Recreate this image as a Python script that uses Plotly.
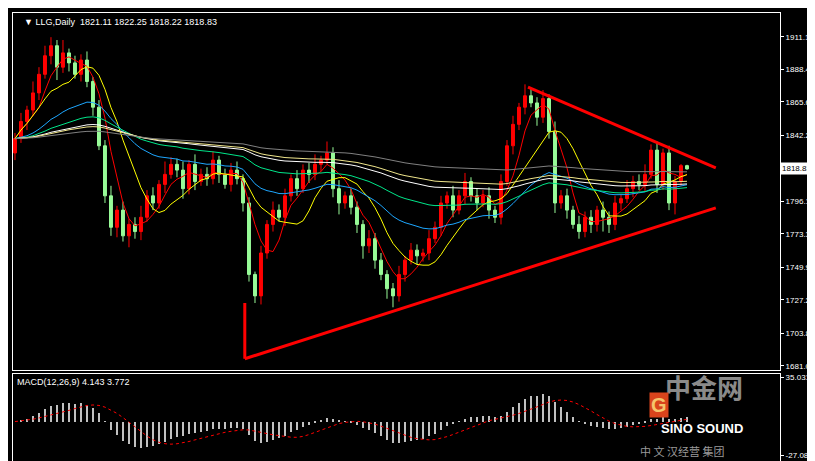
import pandas as pd
import plotly.graph_objects as go

# daily closes (index 0 = leftmost candle)
closes = [
    1840, 1852, 1860, 1872, 1885, 1898, 1905, 1890, 1900, 1893, 1885, 1895,
    1880, 1862, 1835, 1800, 1778, 1790, 1772, 1780, 1775, 1785, 1800, 1795,
    1808, 1815, 1822, 1818, 1805, 1822, 1810, 1815, 1812, 1825, 1815, 1808,
    1818, 1812, 1795, 1745, 1730, 1760, 1780, 1790, 1785, 1800, 1812, 1805,
    1818, 1815, 1822, 1825, 1830, 1805, 1795, 1800, 1792, 1780, 1765, 1770,
    1755, 1745, 1735, 1730, 1745, 1755, 1762, 1758, 1760, 1770, 1778, 1795,
    1800, 1790, 1800, 1810, 1800, 1795, 1800, 1790, 1785, 1810, 1835, 1850,
    1862, 1870, 1865, 1855, 1868, 1845, 1795, 1800, 1790, 1780, 1775, 1785,
    1780, 1790, 1785, 1780, 1795, 1798, 1805, 1810, 1808, 1815, 1832, 1808,
    1830, 1795, 1810, 1821.11, 1818.83,
]
first_open = 1830
wick_up = [
    4, 6, 3, 8, 5, 7, 6, 4, 9, 3, 5, 4, 6, 3, 5, 4, 7, 3, 6, 4, 5, 8, 4, 6,
    3, 9, 5, 4, 6, 3, 7, 4, 5, 6, 3, 4, 5, 6, 3, 4, 2, 5, 3, 6, 4, 5, 3, 6,
    4, 5, 7, 3, 8, 4, 6, 3, 5, 4, 3, 6, 4, 5, 3, 4, 6, 3, 5, 4, 3, 6, 4, 5,
    3, 7, 4, 6, 3, 5, 4, 6, 3, 5, 4, 6, 3, 8, 5, 4, 6, 3, 7, 4, 5, 3, 6, 4,
    5, 3, 6, 4, 5, 3, 6, 4, 5, 7, 4, 6, 3, 5, 4, 1.1, 0.6,
]
wick_dn = [
    5, 3, 6, 4, 5, 3, 6, 9, 4, 6, 3, 5, 4, 6, 3, 5, 6, 7, 4, 8, 5, 6, 3, 5,
    4, 6, 3, 5, 7, 4, 6, 3, 5, 4, 6, 3, 5, 4, 6, 5, 5, 6, 4, 5, 3, 6, 4, 5,
    3, 6, 4, 5, 3, 6, 8, 4, 5, 6, 9, 5, 6, 4, 7, 8, 4, 5, 3, 6, 4, 5, 3, 6,
    4, 5, 3, 6, 4, 5, 3, 6, 4, 5, 3, 6, 4, 5, 3, 6, 4, 5, 7, 4, 6, 3, 5, 4,
    6, 5, 10, 6, 4, 5, 3, 6, 4, 5, 3, 6, 4, 5, 8, 3, 0.6,
]

price_ticks = [1911.15, 1888.40, 1865.65, 1842.25, 1796.10, 1773.35,
               1749.95, 1727.20, 1703.80, 1681.05]
last_price = 1818.83

# hand-drawn triangle lines (candle index, price)
upper_line = ([85.5, 116.8], [1876, 1819.5])
lower_line = ([38.3, 116.8], [1686, 1791.6])
crash_mark = ([38.3, 38.3], [1686, 1725])

idx = list(range(len(closes)))
opens = [first_open] + closes[:-1]
opens[-1] = 1821.11
highs = [max(o, c) + u for o, c, u in zip(opens, closes, wick_up)]
lows = [min(o, c) - d for o, c, d in zip(opens, closes, wick_dn)]

s = pd.Series(closes, dtype=float)
ma_lines = [
    (s.rolling(5, min_periods=1).mean(), "#ff0000"),
    (s.rolling(10, min_periods=1).mean(), "#ffff00"),
    (s.ewm(span=30, adjust=False).mean(), "#1ea7ff"),
    (s.ewm(span=60, adjust=False).mean(), "#00e68a"),
    (s.ewm(span=100, adjust=False).mean(), "#ffffff"),
    (s.ewm(span=120, adjust=False).mean(), "#f0e68c"),
    (s.ewm(span=200, adjust=False).mean(), "#808080"),
]
macd = s.ewm(span=12, adjust=False).mean() - s.ewm(span=26, adjust=False).mean()
signal = macd.rolling(9, min_periods=1).mean()

fig = go.Figure()
fig.add_trace(go.Candlestick(
    x=idx, open=opens, high=highs, low=lows, close=closes,
    increasing=dict(line=dict(color="#ff0000", width=1), fillcolor="#ff0000"),
    decreasing=dict(line=dict(color="#98fb98", width=1), fillcolor="#98fb98"),
    whiskerwidth=0, xaxis="x", yaxis="y",
))
for ma, col in ma_lines:
    fig.add_trace(go.Scatter(x=idx, y=ma, mode="lines",
                             line=dict(color=col, width=1), xaxis="x", yaxis="y"))
for xs, ys in (upper_line, lower_line, crash_mark):
    fig.add_trace(go.Scatter(x=xs, y=ys, mode="lines",
                             line=dict(color="#ff0000", width=3), xaxis="x", yaxis="y"))

fig.add_trace(go.Bar(x=idx, y=macd, marker=dict(color="#c0c0c0", line_width=0),
                     width=0.2, xaxis="x2", yaxis="y2"))
fig.add_trace(go.Scatter(x=idx, y=signal, mode="lines",
                         line=dict(color="#ff0000", width=1, dash="dot"),
                         xaxis="x2", yaxis="y2"))

xr = [-0.33, 127.5]
fig.update_layout(
    width=815, height=461, showlegend=False, bargap=0,
    paper_bgcolor="black", plot_bgcolor="black",
    margin=dict(l=5, r=43, t=5, b=6),
    font=dict(family="Liberation Sans", size=8, color="white"),
    xaxis=dict(domain=[0, 1], range=xr, showticklabels=False, showgrid=False,
               zeroline=False, rangeslider=dict(visible=False), anchor="y",
               showline=True, mirror=True, linecolor="white"),
    yaxis=dict(domain=[0.207, 1], range=[1678.25, 1927.9], side="right",
               tickvals=price_ticks, ticktext=[f"{v:.2f}" for v in price_ticks],
               ticks="outside", ticklen=3, tickcolor="white", showgrid=False,
               zeroline=False, showline=True, mirror=True, linecolor="white"),
    xaxis2=dict(domain=[0, 1], range=xr, showticklabels=False, showgrid=False,
                zeroline=False, anchor="y2", showline=True, mirror=True,
                linecolor="white"),
    yaxis2=dict(domain=[0, 0.198], range=[-33, 38], side="right",
                tickvals=[35.031, -27.087], ticktext=["35.031", "-27.087"],
                ticks="outside", ticklen=3, tickcolor="white", showgrid=False,
                zeroline=False, showline=True, mirror=True, linecolor="white"),
)
fig.add_annotation(x=0.012, y=0.995, xref="paper", yref="paper", xanchor="left",
                   yanchor="top", showarrow=False, font=dict(size=9),
                   text="▼ LLG,Daily  1821.11 1822.25 1818.22 1818.83")
fig.add_annotation(x=0.003, y=0.195, xref="paper", yref="paper", xanchor="left",
                   yanchor="top", showarrow=False, font=dict(size=9),
                   text="MACD(12,26,9) 4.143 3.772")
fig.add_annotation(x=1.0, y=last_price, xref="paper", yref="y", xanchor="left",
                   showarrow=False, text=f"{last_price:.2f}", bgcolor="white",
                   font=dict(color="black", size=8), borderpad=1)
fig.add_annotation(x=0.955, y=0.125, xref="paper", yref="paper", showarrow=False,
                   text="<b>中金网</b>", font=dict(family="Noto Sans CJK SC", size=26,
                                                  color="#8a8a8a"))
fig.add_annotation(x=0.955, y=0.055, xref="paper", yref="paper", showarrow=False,
                   text="<b>SINO SOUND</b>", font=dict(size=13, color="white"))
fig.add_annotation(x=0.855, y=0.1, xref="paper", yref="paper", showarrow=False,
                   text="<b>G</b>", bgcolor="#d9441c", font=dict(size=20, color="#f5c56b"))
fig.add_annotation(x=0.93, y=0.005, xref="paper", yref="paper", showarrow=False,
                   text="中 文 汉经营 集团", font=dict(family="Noto Sans CJK SC", size=11,
                                                   color="#9a9a9a"))

fig.write_html("out.html")
